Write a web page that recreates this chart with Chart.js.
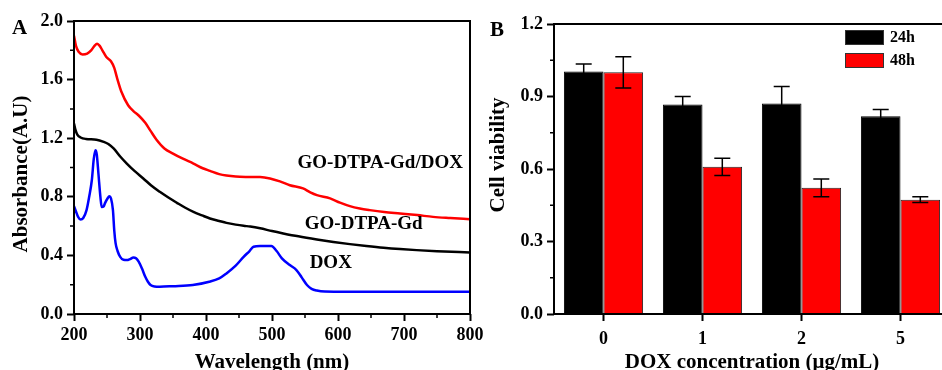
<!DOCTYPE html>
<html>
<head>
<meta charset="utf-8">
<script src="https://cdn.jsdelivr.net/npm/chart.js@4.4.1/dist/chart.umd.min.js"></script>
<style>
  html, body { margin: 0; padding: 0; background: #fff; }
  body { width: 942px; height: 370px; overflow: hidden; position: relative; }
  canvas { position: absolute; top: 0; }
  #specChart { left: 0; }
  #viaChart { left: 480px; }
</style>
</head>
<body>
<canvas id="specChart" width="490" height="370"></canvas>
<canvas id="viaChart" width="480" height="370"></canvas>
<script>
// Panel A: UV-vis spectra (wavelength nm -> absorbance)
const wlComplex = [200, 203, 207, 213, 220, 226, 231, 235, 239, 243, 249, 256, 261, 265, 272, 282, 290, 298, 308, 316, 325, 337, 350, 365, 381, 395, 406, 420, 431, 445, 460, 482, 497, 512, 527, 547, 558, 568, 588, 603, 618, 633, 648, 670, 694, 720, 744, 770, 800];
const absComplex = [1.90, 1.83, 1.79, 1.772, 1.778, 1.80, 1.83, 1.845, 1.83, 1.80, 1.755, 1.725, 1.68, 1.615, 1.515, 1.425, 1.385, 1.355, 1.305, 1.25, 1.19, 1.13, 1.095, 1.06, 1.027, 0.995, 0.977, 0.955, 0.945, 0.938, 0.936, 0.935, 0.925, 0.905, 0.879, 0.857, 0.83, 0.811, 0.789, 0.76, 0.736, 0.72, 0.709, 0.696, 0.686, 0.675, 0.663, 0.655, 0.647];

const wlCarrier = [200, 202, 205, 210, 218, 234, 245, 252, 260, 270, 280, 292, 305, 317, 330, 343, 356, 368, 381, 394, 406, 420, 431, 445, 457, 467, 482, 500, 517, 540, 568, 593, 618, 643, 669, 694, 719, 750, 800];
const absCarrier = [1.30, 1.26, 1.225, 1.205, 1.195, 1.19, 1.175, 1.16, 1.13, 1.075, 1.027, 0.975, 0.925, 0.877, 0.834, 0.795, 0.759, 0.727, 0.697, 0.673, 0.652, 0.635, 0.622, 0.61, 0.602, 0.597, 0.585, 0.566, 0.55, 0.53, 0.509, 0.492, 0.477, 0.464, 0.452, 0.443, 0.436, 0.429, 0.42];

const wlDox = [200, 203, 206, 210, 214, 219, 223, 227, 230, 232.5, 234.5, 237, 240, 242, 245, 247, 251, 253.5, 256, 259, 261, 263, 266, 270, 275, 280, 285, 290, 294, 298, 303, 308, 312, 316, 322, 330, 350, 380, 405, 420, 431, 445, 457, 466, 472, 482, 499, 507, 515, 527, 537, 545, 553, 560, 568, 580, 600, 700, 800];
const absDox = [0.736, 0.70, 0.665, 0.645, 0.655, 0.709, 0.80, 0.913, 1.06, 1.118, 1.09, 0.959, 0.80, 0.73, 0.735, 0.757, 0.79, 0.804, 0.79, 0.709, 0.57, 0.484, 0.43, 0.39, 0.37, 0.368, 0.375, 0.386, 0.38, 0.357, 0.31, 0.254, 0.22, 0.198, 0.188, 0.186, 0.19, 0.198, 0.22, 0.243, 0.277, 0.33, 0.39, 0.43, 0.459, 0.464, 0.464, 0.43, 0.38, 0.334, 0.30, 0.25, 0.198, 0.172, 0.16, 0.153, 0.152, 0.152, 0.152];

// Panel B: cell viability
const doseLabels = ["0", "1", "2", "5"];
const via24 = [1.003, 0.867, 0.871, 0.818];
const err24 = [0.032, 0.033, 0.07, 0.028];
const via48 = [1.0, 0.609, 0.522, 0.473];
const err48 = [0.065, 0.036, 0.037, 0.012];

const serif = "'Liberation Serif', 'Times New Roman', serif";
Chart.defaults.font.family = serif;
Chart.defaults.font.weight = 'bold';
Chart.defaults.color = '#000';

const pairs = (xs, ys) => xs.map((x, i) => ({ x: x, y: ys[i] }));

// frame, minor ticks, panel letter and rotated y title
const framePlugin = {
  id: 'frame',
  afterDraw(chart, args, opts) {
    const { ctx, chartArea: a, scales } = chart;
    ctx.save();
    ctx.strokeStyle = '#000';
    ctx.lineWidth = 2;
    ctx.strokeRect(a.left, a.top, a.right - a.left, a.bottom - a.top);

    ctx.lineWidth = 1.5;
    ctx.beginPath();
    (opts.minorX || []).forEach(v => {
      const px = scales.x.getPixelForValue(v);
      ctx.moveTo(px, a.bottom);
      ctx.lineTo(px, a.bottom + 4);
    });
    (opts.minorY || []).forEach(v => {
      const py = scales.y.getPixelForValue(v);
      ctx.moveTo(a.left, py);
      ctx.lineTo(a.left - 4, py);
    });
    ctx.stroke();

    ctx.fillStyle = '#000';
    ctx.font = 'bold 21px ' + serif;
    ctx.textBaseline = 'alphabetic';
    ctx.textAlign = 'left';
    ctx.fillText(opts.letter, opts.letterX, opts.letterY);

    ctx.font = 'bold 21px ' + serif;
    ctx.textAlign = 'center';
    ctx.textBaseline = 'middle';
    ctx.translate(opts.yTitleX, opts.yTitleY);
    ctx.rotate(-Math.PI / 2);
    ctx.fillText(opts.yTitle, 0, 0);
    ctx.restore();
  }
};

// text labels next to the spectra
const curveLabels = {
  id: 'curveLabels',
  afterDatasetsDraw(chart, args, opts) {
    const { ctx, scales } = chart;
    ctx.save();
    ctx.font = 'bold 19px ' + serif;
    ctx.fillStyle = '#000';
    ctx.textAlign = 'center';
    ctx.textBaseline = 'middle';
    chart.data.datasets.forEach((ds, i) => {
      const at = opts.anchors[i];
      ctx.fillText(ds.label, scales.x.getPixelForValue(at[0]), scales.y.getPixelForValue(at[1]));
    });
    ctx.restore();
  }
};

const errorBars = {
  id: 'errorBars',
  afterDatasetsDraw(chart) {
    const { ctx, scales: { y } } = chart;
    ctx.save();
    ctx.strokeStyle = '#000';
    ctx.lineWidth = 1.5;
    chart.data.datasets.forEach((ds, i) => {
      chart.getDatasetMeta(i).data.forEach((bar, j) => {
        const top = y.getPixelForValue(ds.data[j] + ds.errors[j]);
        const bot = y.getPixelForValue(ds.data[j] - ds.errors[j]);
        ctx.beginPath();
        ctx.moveTo(bar.x, top); ctx.lineTo(bar.x, bot);
        ctx.moveTo(bar.x - 8, top); ctx.lineTo(bar.x + 8, top);
        ctx.moveTo(bar.x - 8, bot); ctx.lineTo(bar.x + 8, bot);
        ctx.stroke();
      });
    });
    ctx.restore();
  }
};

const boxLegend = {
  id: 'boxLegend',
  afterDraw(chart) {
    const { ctx, chartArea: a } = chart;
    ctx.save();
    ctx.font = 'bold 16px ' + serif;
    ctx.textBaseline = 'middle';
    ctx.textAlign = 'left';
    chart.data.datasets.forEach((ds, i) => {
      const x = a.right - 105, y = a.top + 6 + i * 23;
      ctx.fillStyle = ds.backgroundColor;
      ctx.fillRect(x, y, 39, 15);
      ctx.strokeStyle = '#333';
      ctx.lineWidth = 1;
      ctx.strokeRect(x + 0.5, y + 0.5, 38, 14);
      ctx.fillStyle = '#000';
      ctx.fillText(ds.label, x + 45, y + 8);
    });
    ctx.restore();
  }
};

const tickGrid = { drawOnChartArea: false, tickLength: 7, tickWidth: 2, tickColor: '#000' };

new Chart(document.getElementById('specChart'), {
  type: 'line',
  data: {
    datasets: [
      { label: 'GO-DTPA-Gd/DOX', data: pairs(wlComplex, absComplex), borderColor: '#ff0000' },
      { label: 'GO-DTPA-Gd', data: pairs(wlCarrier, absCarrier), borderColor: '#000000' },
      { label: 'DOX', data: pairs(wlDox, absDox), borderColor: '#0000ff' }
    ]
  },
  options: {
    responsive: false,
    animation: false,
    devicePixelRatio: 1,
    layout: { padding: { top: 21, right: 20, bottom: 0, left: 0 } },
    elements: {
      point: { radius: 0 },
      line: { borderWidth: 2.5, tension: 0.4, cubicInterpolationMode: 'monotone' }
    },
    scales: {
      x: {
        type: 'linear', min: 200, max: 800,
        ticks: { stepSize: 100, padding: 4, font: { size: 18 } },
        grid: tickGrid,
        border: { display: false },
        title: { display: true, text: 'Wavelength (nm)', font: { size: 21, lineHeight: 1 }, padding: { top: 0, bottom: -3 } },
        afterFit(s) { s.height = 56; }
      },
      y: {
        min: 0, max: 2,
        ticks: { stepSize: 0.4, padding: 4, font: { size: 18 }, callback: v => v.toFixed(1) },
        grid: tickGrid,
        border: { display: false },
        afterFit(s) { s.width = 74; }
      }
    },
    plugins: {
      legend: { display: false },
      tooltip: { enabled: false },
      frame: {
        minorX: [250, 350, 450, 550, 650, 750],
        minorY: [0.2, 0.6, 1.0, 1.4, 1.8],
        letter: 'A', letterX: 12, letterY: 34,
        yTitle: 'Absorbance(A.U)', yTitleX: 22, yTitleY: 174
      },
      curveLabels: { anchors: [[664, 1.03], [639, 0.613], [589, 0.348]] }
    }
  },
  plugins: [framePlugin, curveLabels]
});

new Chart(document.getElementById('viaChart'), {
  type: 'bar',
  data: {
    labels: doseLabels,
    datasets: [
      { label: '24h', data: via24, errors: err24, backgroundColor: '#000000', borderColor: '#000000', borderWidth: 1 },
      { label: '48h', data: via48, errors: err48, backgroundColor: '#ff0000', borderColor: '#222222', borderWidth: 1 }
    ]
  },
  options: {
    responsive: false,
    animation: false,
    devicePixelRatio: 1,
    layout: { padding: { top: 24, right: 10, bottom: 0, left: 0 } },
    datasets: { bar: { categoryPercentage: 0.8, barPercentage: 1 } },
    scales: {
      x: {
        ticks: { padding: 8, font: { size: 18 } },
        grid: Object.assign({ offset: false }, tickGrid),
        border: { display: false },
        title: { display: true, text: 'DOX concentration (μg/mL)', font: { size: 21, lineHeight: 1 }, padding: { top: 0, bottom: -3 } },
        afterFit(s) { s.height = 56; }
      },
      y: {
        min: 0, max: 1.2,
        ticks: { stepSize: 0.3, padding: 4, font: { size: 18 }, callback: v => v.toFixed(1) },
        grid: tickGrid,
        border: { display: false },
        afterFit(s) { s.width = 74; }
      }
    },
    plugins: {
      legend: { display: false },
      tooltip: { enabled: false },
      frame: {
        minorY: [0.15, 0.45, 0.75, 1.05],
        letter: 'B', letterX: 10, letterY: 36,
        yTitle: 'Cell viability', yTitleX: 19, yTitleY: 155
      }
    }
  },
  plugins: [errorBars, framePlugin, boxLegend]
});
</script>
</body>
</html>
